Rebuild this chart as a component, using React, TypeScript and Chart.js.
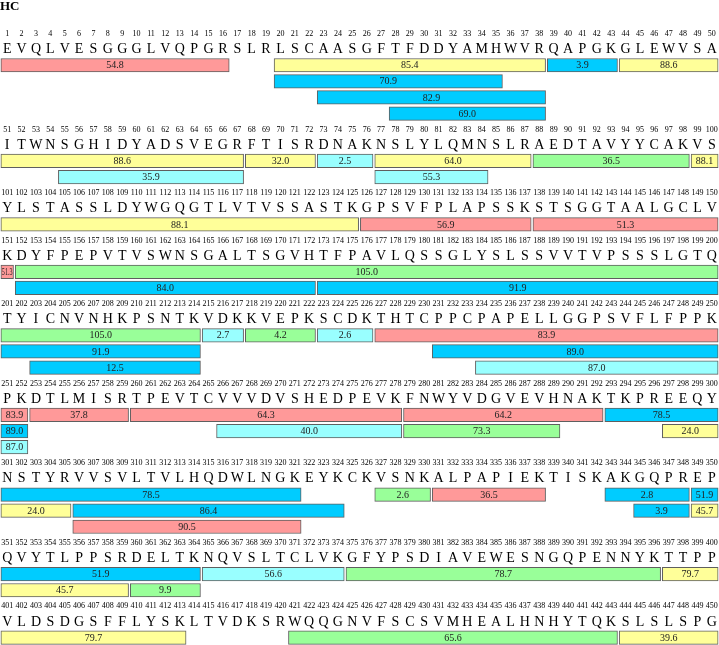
import React, { useEffect, useRef } from 'react';
import { Chart, registerables } from 'chart.js';

Chart.register(...registerables);

const title = 'HC';

// heavy chain sequence, 50 residues per row
const sequenceRows = [
  'EVQLVESGGGLVQPGRSLRLSCAASGFTFDDYAMHWVRQAPGKGLEWVSA',
  'ITWNSGHIDYADSVEGRFTISRDNAKNSLYLQMNSLRAEDTAVYYCAKVS',
  'YLSTASSLDYWGQGTLVTVSSASTKGPSVFPLAPSSKSTSGGTAALGCLV',
  'KDYFPEPVTVSWNSGALTSGVHTFPAVLQSSGLYSLSSVVTVPSSSLGTQ',
  'TYICNVNHKPSNTKVDKKVEPKSCDKTHTCPPCPAPELLGGPSVFLFPPK',
  'PKDTLMISRTPEVTCVVVDVSHEDPEVKFNWYVDGVEVHNAKTKPREEQY',
  'NSTYRVVSVLTVLHQDWLNGKEYKCKVSNKALPAPIEKTISKAKGQPREP',
  'QVYTLPPSRDELTKNQVSLTCLVKGFYPSDIAVEWESNGQPENNYKTTPP',
  'VLDSDGSFFLYSKLTVDKSRWQQGNVFSCSVMHEALHNHYTQKSLSLSPG',
];

// peptides: first / last residue, value shown in the bar, colour group
const pepStart = [1, 20, 20, 23, 28, 39, 44, 55, 68, 73, 77, 77, 88, 99, 126, 138, 152, 152, 173, 203, 215, 218, 223, 227, 231, 234, 253, 260, 266, 279, 279, 293, 297, 306, 306, 327, 331, 343, 345, 349, 349, 360, 365, 375, 397, 421, 444];
const pepEnd = [16, 38, 35, 38, 38, 43, 67, 67, 72, 76, 87, 84, 98, 125, 137, 151, 214, 172, 214, 214, 217, 222, 226, 252, 252, 252, 259, 278, 278, 292, 289, 321, 305, 324, 321, 330, 338, 348, 348, 364, 359, 364, 374, 396, 413, 443, 450];
const pepValue = [54.8, 85.4, 70.9, 82.9, 69.0, 3.9, 88.6, 35.9, 32.0, 2.5, 64.0, 55.3, 36.5, 88.1, 56.9, 51.3, 105.0, 84.0, 91.9, 12.5, 2.7, 4.2, 2.6, 83.9, 89.0, 87.0, 37.8, 64.3, 40.0, 64.2, 73.3, 78.5, 24.0, 86.4, 90.5, 2.6, 36.5, 2.8, 3.9, 51.9, 45.7, 9.9, 56.6, 78.7, 79.7, 65.6, 39.6];
// 0 red, 1 yellow, 2 blue, 3 light blue, 4 green
const pepGroup = [0, 1, 2, 2, 2, 2, 1, 3, 1, 3, 1, 3, 4, 1, 0, 0, 4, 2, 2, 2, 3, 4, 3, 0, 2, 3, 0, 0, 3, 0, 4, 2, 1, 2, 0, 4, 0, 2, 2, 2, 1, 4, 3, 4, 1, 4, 1];

const groupColors = ['#ff9999', '#ffff99', '#00ccff', '#99ffff', '#99ff99'];

const PER_ROW = 50;
const SERIF = "'Liberation Serif', 'Times New Roman', serif";

// stack peptides into lanes, longest first when they start together
function assignLanes() {
  const order = pepStart.map((_, i) => i).sort((a, b) => pepStart[a] - pepStart[b] || pepEnd[b] - pepEnd[a]);
  const laneEnd: number[] = [];
  const lanes: number[] = new Array(pepStart.length).fill(0);
  order.forEach((i) => {
    let k = laneEnd.findIndex((e) => e < pepStart[i]);
    if (k < 0) {
      k = laneEnd.length;
      laneEnd.push(0);
    }
    laneEnd[k] = pepEnd[i];
    lanes[i] = k;
  });
  return lanes;
}

function buildLayout() {
  const lanes = assignLanes();
  const segs: { row: number; c0: number; c1: number; lane: number; pep: number }[] = [];
  pepStart.forEach((s, i) => {
    const e = pepEnd[i];
    for (let r = Math.floor((s - 1) / PER_ROW); r <= Math.floor((e - 1) / PER_ROW); r++) {
      const c0 = Math.max(s, r * PER_ROW + 1) - r * PER_ROW - 1;
      const c1 = Math.min(e, (r + 1) * PER_ROW) - r * PER_ROW;
      segs.push({ row: r, c0, c1, lane: lanes[i], pep: i });
    }
  });
  const rowLanes = sequenceRows.map((_, r) =>
    Math.max(1, ...segs.filter((s) => s.row === r).map((s) => s.lane + 1))
  );
  const rowY: number[] = [];
  let y = 34;
  rowLanes.forEach((n) => {
    rowY.push(y);
    y += 31.3 + 16.1 * n;
  });
  return { segs, rowY };
}

const App: React.FC = () => {
  const canvasRef = useRef<HTMLCanvasElement | null>(null);
  const chartRef = useRef<Chart | null>(null);

  useEffect(() => {
    if (!canvasRef.current) return;
    const ctx = canvasRef.current.getContext('2d');
    if (!ctx) return;
    if (chartRef.current) chartRef.current.destroy();

    const { segs, rowY } = buildLayout();
    const gap = 0.06;

    const textPlugin = {
      id: 'sequenceText',
      afterDatasetsDraw(chart: any) {
        const c = chart.ctx;
        const xs = chart.scales.x;
        const ys = chart.scales.y;
        c.save();
        c.fillStyle = '#000';
        c.textBaseline = 'middle';
        c.textAlign = 'left';
        c.font = `bold 13px ${SERIF}`;
        c.fillText(title, 0, ys.getPixelForValue(7));

        c.textAlign = 'center';
        sequenceRows.forEach((row, r) => {
          [...row].forEach((aa, col) => {
            const px = xs.getPixelForValue(col + 0.5);
            c.font = `8px ${SERIF}`;
            c.fillText(String(r * PER_ROW + col + 1), px, ys.getPixelForValue(rowY[r]), 13.5);
            c.font = `14px ${SERIF}`;
            c.fillText(aa, px, ys.getPixelForValue(rowY[r] + 15.5));
          });
        });

        c.fillStyle = '#222';
        c.font = `10px ${SERIF}`;
        chart.getDatasetMeta(0).data.forEach((bar: any, i: number) => {
          const { x, base, y } = bar.getProps(['x', 'base', 'y'], true);
          const w = Math.abs(x - base);
          c.fillText(pepValue[segs[i].pep].toFixed(1), (x + base) / 2, y + 0.5, Math.max(w - 2, 4));
        });
        c.restore();
      },
    };

    chartRef.current = new Chart(ctx, {
      type: 'bar',
      data: {
        datasets: [
          {
            data: segs.map((s) => ({
              x: [s.c0 + gap, s.c1 - gap],
              y: rowY[s.row] + 31.25 + 16.1 * s.lane,
            })) as any,
            backgroundColor: segs.map((s) => groupColors[pepGroup[s.pep]]),
            borderColor: '#5f5f5f',
            borderWidth: 1,
            borderSkipped: false,
            barThickness: 13.5,
          },
        ],
      },
      options: {
        indexAxis: 'y',
        animation: false,
        responsive: true,
        maintainAspectRatio: false,
        layout: { padding: 0 },
        plugins: {
          legend: { display: false },
          tooltip: { enabled: false },
          title: { display: false },
        },
        scales: {
          x: { type: 'linear', min: 0, max: PER_ROW, display: false },
          y: { type: 'linear', min: 0, max: 645, reverse: true, offset: false, display: false },
        },
      },
      plugins: [textPlugin],
    });

    return () => {
      if (chartRef.current) {
        chartRef.current.destroy();
        chartRef.current = null;
      }
    };
  }, []);

  return (
    <div style={{ position: 'absolute', left: 0, top: 0, width: 719, height: 645, background: '#fff' }}>
      <canvas ref={canvasRef}></canvas>
    </div>
  );
};

export default App;
